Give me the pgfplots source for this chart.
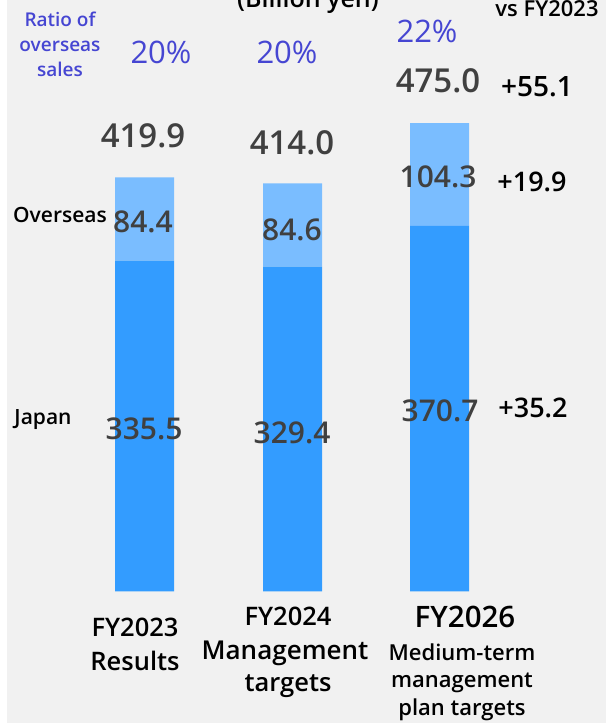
\documentclass[border=0pt]{standalone}
\usepackage{fontspec}
\setmainfont{Open Sans}
\IfFontExistsTF{Open Sans Semibold}
  {\newfontfamily\semib{Open Sans Semibold}}
  {\IfFontExistsTF{OpenSans-Semibold.ttf}
    {\newfontfamily\semib{OpenSans-Semibold.ttf}}
    {\newcommand\semib{\bfseries}}}
\usepackage{pgfplots}
\pgfplotsset{compat=1.18}
\definecolor{bgc}{HTML}{F1F1F1}
\definecolor{japan}{HTML}{339CFF}
\definecolor{overseas}{HTML}{7ABDFF}
\definecolor{numgray}{HTML}{404040}
\definecolor{ratio}{HTML}{4646D2}
\newcommand\fs[1]{\fontsize{#1}{#1}\selectfont}

\begin{document}
\begin{tikzpicture}
\path[use as bounding box] (0,0) rectangle (606pt,723pt);
\clip (0,0) rectangle (606pt,723pt);
\fill[white] (0,0) rectangle (606pt,723pt);
\fill[bgc] (7pt,0) rectangle (606pt,723pt);

\begin{axis}[
  at={(0,0)}, anchor=south west,
  scale only axis, width=606pt, height=723pt,
  xmin=0, xmax=606, ymin=-133.4, ymax=599.9,
  hide axis,
  ybar stacked, bar width=59pt,
]
% Japan
\addplot[fill=japan, draw=none] coordinates {(144.5,335.5) (292.5,329.4) (439.5,370.7)};
% Overseas
\addplot[fill=overseas, draw=none] coordinates {(144.5,84.4) (292.5,84.6) (439.5,104.3)};
\end{axis}

% labels, in pixel coordinates measured from the top
\begin{scope}[shift={(0,723pt)}, x=1pt, y=-1pt]
\tikzset{lab/.style={anchor=base, inner sep=0pt}}
\node[lab, font=\semib\fs{25}] at (308,8) {(Billion yen)};
\node[lab, font=\semib\fs{22}] at (547,17) {vs FY2023};

\node[lab, text=ratio, font=\semib\fs{19}] at (60,26.5) {Ratio of};
\node[lab, text=ratio, font=\semib\fs{19}] at (60,52) {overseas};
\node[lab, text=ratio, font=\semib\fs{19}] at (60,77) {sales};
\node[lab, text=ratio, font=\fs{31}] at (161,63.5) {20\%};
\node[lab, text=ratio, font=\fs{31}] at (287,63.5) {20\%};
\node[lab, text=ratio, font=\fs{31}] at (427,43) {22\%};

\node[lab, text=numgray, font=\semib\fs{33}] at (143,148) {419.9};
\node[lab, text=numgray, font=\semib\fs{33}] at (292,155) {414.0};
\node[lab, text=numgray, font=\semib\fs{33}] at (438,93) {475.0};

\node[lab, text=numgray, font=\semib\fs{30}] at (143,233) {84.4};
\node[lab, text=numgray, font=\semib\fs{30}] at (292,241) {84.6};
\node[lab, text=numgray, font=\semib\fs{30}] at (438,188) {104.3};
\node[lab, text=numgray, font=\semib\fs{30}] at (144,440) {335.5};
\node[lab, text=numgray, font=\semib\fs{30}] at (292,444) {329.4};
\node[lab, text=numgray, font=\semib\fs{30}] at (440,422) {370.7};

\node[lab, font=\semib\fs{28}] at (537,97) {+55.1};
\node[lab, font=\semib\fs{27}] at (532,192) {+19.9};
\node[lab, font=\semib\fs{27}] at (533,418) {+35.2};

\node[lab, font=\semib\fs{21}] at (60,223) {Overseas};
\node[lab, font=\semib\fs{21}] at (43,425) {Japan};

\node[lab, font=\semib\fs{25.5}] at (135,637) {FY2023};
\node[lab, font=\semib\fs{25.5}] at (135,671) {Results};
\node[lab, font=\semib\fs{25.5}] at (288,626) {FY2024};
\node[lab, font=\semib\fs{26}] at (285,660) {Management};
\node[lab, font=\semib\fs{25.5}] at (288,692) {targets};
\node[lab, font=\semib\fs{29.5}] at (465,628) {FY2026};
\node[lab, font=\semib\fs{22}] at (462,661) {Medium-term};
\node[lab, font=\semib\fs{22}] at (462,688) {management};
\node[lab, font=\semib\fs{22}] at (462,715) {plan targets};
\end{scope}
\end{tikzpicture}
\end{document}
